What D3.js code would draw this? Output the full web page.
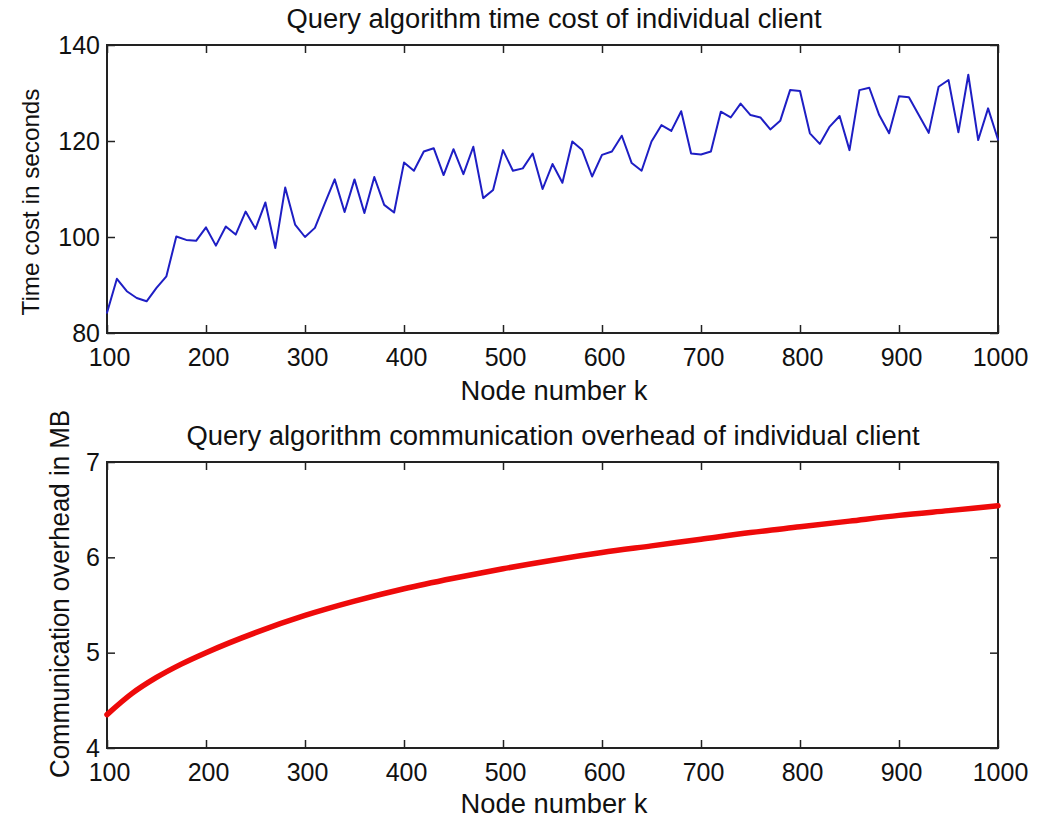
<!DOCTYPE html>
<html>
<head>
<meta charset="utf-8">
<script src="https://cdn.jsdelivr.net/npm/d3@7"></script>
<style>
  body { margin: 0; background: #fff; }
  text { font-family: "Liberation Sans", Arial, sans-serif; fill: #111; }
</style>
</head>
<body>
<div class="chart"></div>
<script>
// node numbers (both plots share this x axis)
const nodesTop = d3.range(100, 1001, 10);
// time cost in seconds
const timeCost = [
  84.2, 91.3, 88.7, 87.3, 86.6, 89.4, 91.8, 100.1, 99.4, 99.2,
  102.0, 98.2, 102.2, 100.5, 105.3, 101.7, 107.2, 97.7, 110.3, 102.6,
  100.0, 101.9, 107.0, 112.0, 105.2, 112.0, 105.0, 112.5, 106.7, 105.1,
  115.5, 113.8, 117.8, 118.5, 112.9, 118.3, 113.1, 118.8, 108.1, 109.8,
  118.1, 113.8, 114.3, 117.4, 110.0, 115.2, 111.3, 119.9, 118.1, 112.6,
  117.1, 117.8, 121.1, 115.4, 113.8, 119.9, 123.3, 122.1, 126.2, 117.4,
  117.2, 117.8, 126.1, 124.9, 127.8, 125.4, 124.9, 122.4, 124.2, 130.6,
  130.4, 121.6, 119.4, 123.0, 125.2, 118.1, 130.6, 131.1, 125.4, 121.6,
  129.3, 129.1, 125.4, 121.7, 131.3, 132.7, 121.8, 133.8, 120.2, 126.8,
  120.3
];
// communication overhead in MB
const nodesBottom = [100, 125, 150, 175, 200, 250, 300, 350, 400, 450, 500,
  550, 600, 650, 700, 750, 800, 850, 900, 950, 1000];
const overhead = [4.35, 4.57, 4.74, 4.88, 5.00, 5.21, 5.39, 5.54, 5.67, 5.78, 5.88,
  5.97, 6.05, 6.12, 6.19, 6.26, 6.32, 6.38, 6.44, 6.49, 6.54];

const xTicks = [100, 200, 300, 400, 500, 600, 700, 800, 900, 1000];
const yTicksTop = [80, 100, 120, 140];
const yTicksBottom = [4, 5, 6, 7];

const W = 1046, H = 822;
const svg = d3.select(".chart").append("svg")
  .attr("width", W)
  .attr("height", H);

const left = 107, right = 998;

function panel(opts) {
  const x = d3.scaleLinear().domain([100, 1000]).range([left, right]);
  const y = d3.scaleLinear().domain(opts.yDomain).range([opts.bottom, opts.top]);
  const g = svg.append("g");

  // inward ticks on all four sides, matlab style
  const tl = 8;
  g.append("g")
    .attr("transform", "translate(0," + opts.bottom + ")")
    .call(d3.axisBottom(x).tickValues(xTicks).tickFormat(d3.format("d"))
      .tickSizeInner(-tl).tickSizeOuter(0).tickPadding(15))
    .call(a => a.selectAll("text").attr("font-size", 25).attr("dy", "0.72em").attr("dx", 2));
  g.append("g")
    .attr("transform", "translate(0," + opts.top + ")")
    .call(d3.axisTop(x).tickValues(xTicks).tickSizeInner(-tl).tickSizeOuter(0).tickFormat(""));
  g.append("g")
    .attr("transform", "translate(" + left + ",0)")
    .call(d3.axisLeft(y).tickValues(opts.yTicks).tickFormat(d3.format("d"))
      .tickSizeInner(-tl).tickSizeOuter(0).tickPadding(7))
    .call(a => a.selectAll("text").attr("font-size", 25));
  g.append("g")
    .attr("transform", "translate(" + right + ",0)")
    .call(d3.axisRight(y).tickValues(opts.yTicks).tickSizeInner(-tl).tickSizeOuter(0).tickFormat(""));
  g.selectAll(".domain").remove();
  g.selectAll(".tick line").attr("stroke", "#222").attr("stroke-width", 1.5);

  g.append("rect")
    .attr("x", left).attr("y", opts.top)
    .attr("width", right - left).attr("height", opts.bottom - opts.top)
    .attr("fill", "none").attr("stroke", "#222").attr("stroke-width", 2);

  const pts = opts.xs.map((d, i) => [d, opts.ys[i]]);
  const line = d3.line()
    .x(d => x(d[0]))
    .y(d => y(d[1]))
    .curve(opts.curve);
  g.append("path")
    .datum(pts)
    .attr("d", line)
    .attr("fill", "none")
    .attr("stroke", opts.color)
    .attr("stroke-width", opts.width)
    .attr("stroke-linejoin", "round")
    .attr("stroke-linecap", "round");

  g.append("text")
    .attr("x", opts.titleX)
    .attr("y", opts.top - 17)
    .attr("text-anchor", "middle")
    .attr("font-size", 27)
    .attr("textLength", opts.titleLen)
    .attr("lengthAdjust", "spacingAndGlyphs")
    .text(opts.title);
  g.append("text")
    .attr("x", 554)
    .attr("y", opts.bottom + opts.xlabGap)
    .attr("text-anchor", "middle")
    .attr("font-size", 27)
    .attr("textLength", 187)
    .attr("lengthAdjust", "spacingAndGlyphs")
    .text("Node number k");
  g.append("text")
    .attr("transform", "translate(" + opts.ylabX + "," + opts.ylabY + ")rotate(-90)")
    .attr("text-anchor", "middle")
    .attr("font-size", opts.ylabSize)
    .attr("textLength", opts.ylabLen)
    .attr("lengthAdjust", "spacingAndGlyphs")
    .text(opts.ylabel);
}

panel({
  top: 45, bottom: 333, yDomain: [80, 140], yTicks: yTicksTop,
  xs: nodesTop, ys: timeCost, color: "#1e1ec4", width: 2, curve: d3.curveLinear,
  title: "Query algorithm time cost of individual client", titleX: 554, titleLen: 535,
  xlabGap: 67,
  ylabel: "Time cost in seconds", ylabX: 39, ylabY: 202, ylabSize: 24, ylabLen: 227
});

panel({
  top: 462, bottom: 748, yDomain: [4, 7], yTicks: yTicksBottom,
  xs: nodesBottom, ys: overhead, color: "#ee0a0a", width: 5.5, curve: d3.curveMonotoneX,
  title: "Query algorithm communication overhead of individual client", titleX: 553, titleLen: 733,
  xlabGap: 65,
  ylabel: "Communication overhead in MB", ylabX: 69, ylabY: 594, ylabSize: 27, ylabLen: 368
});
</script>
</body>
</html>
